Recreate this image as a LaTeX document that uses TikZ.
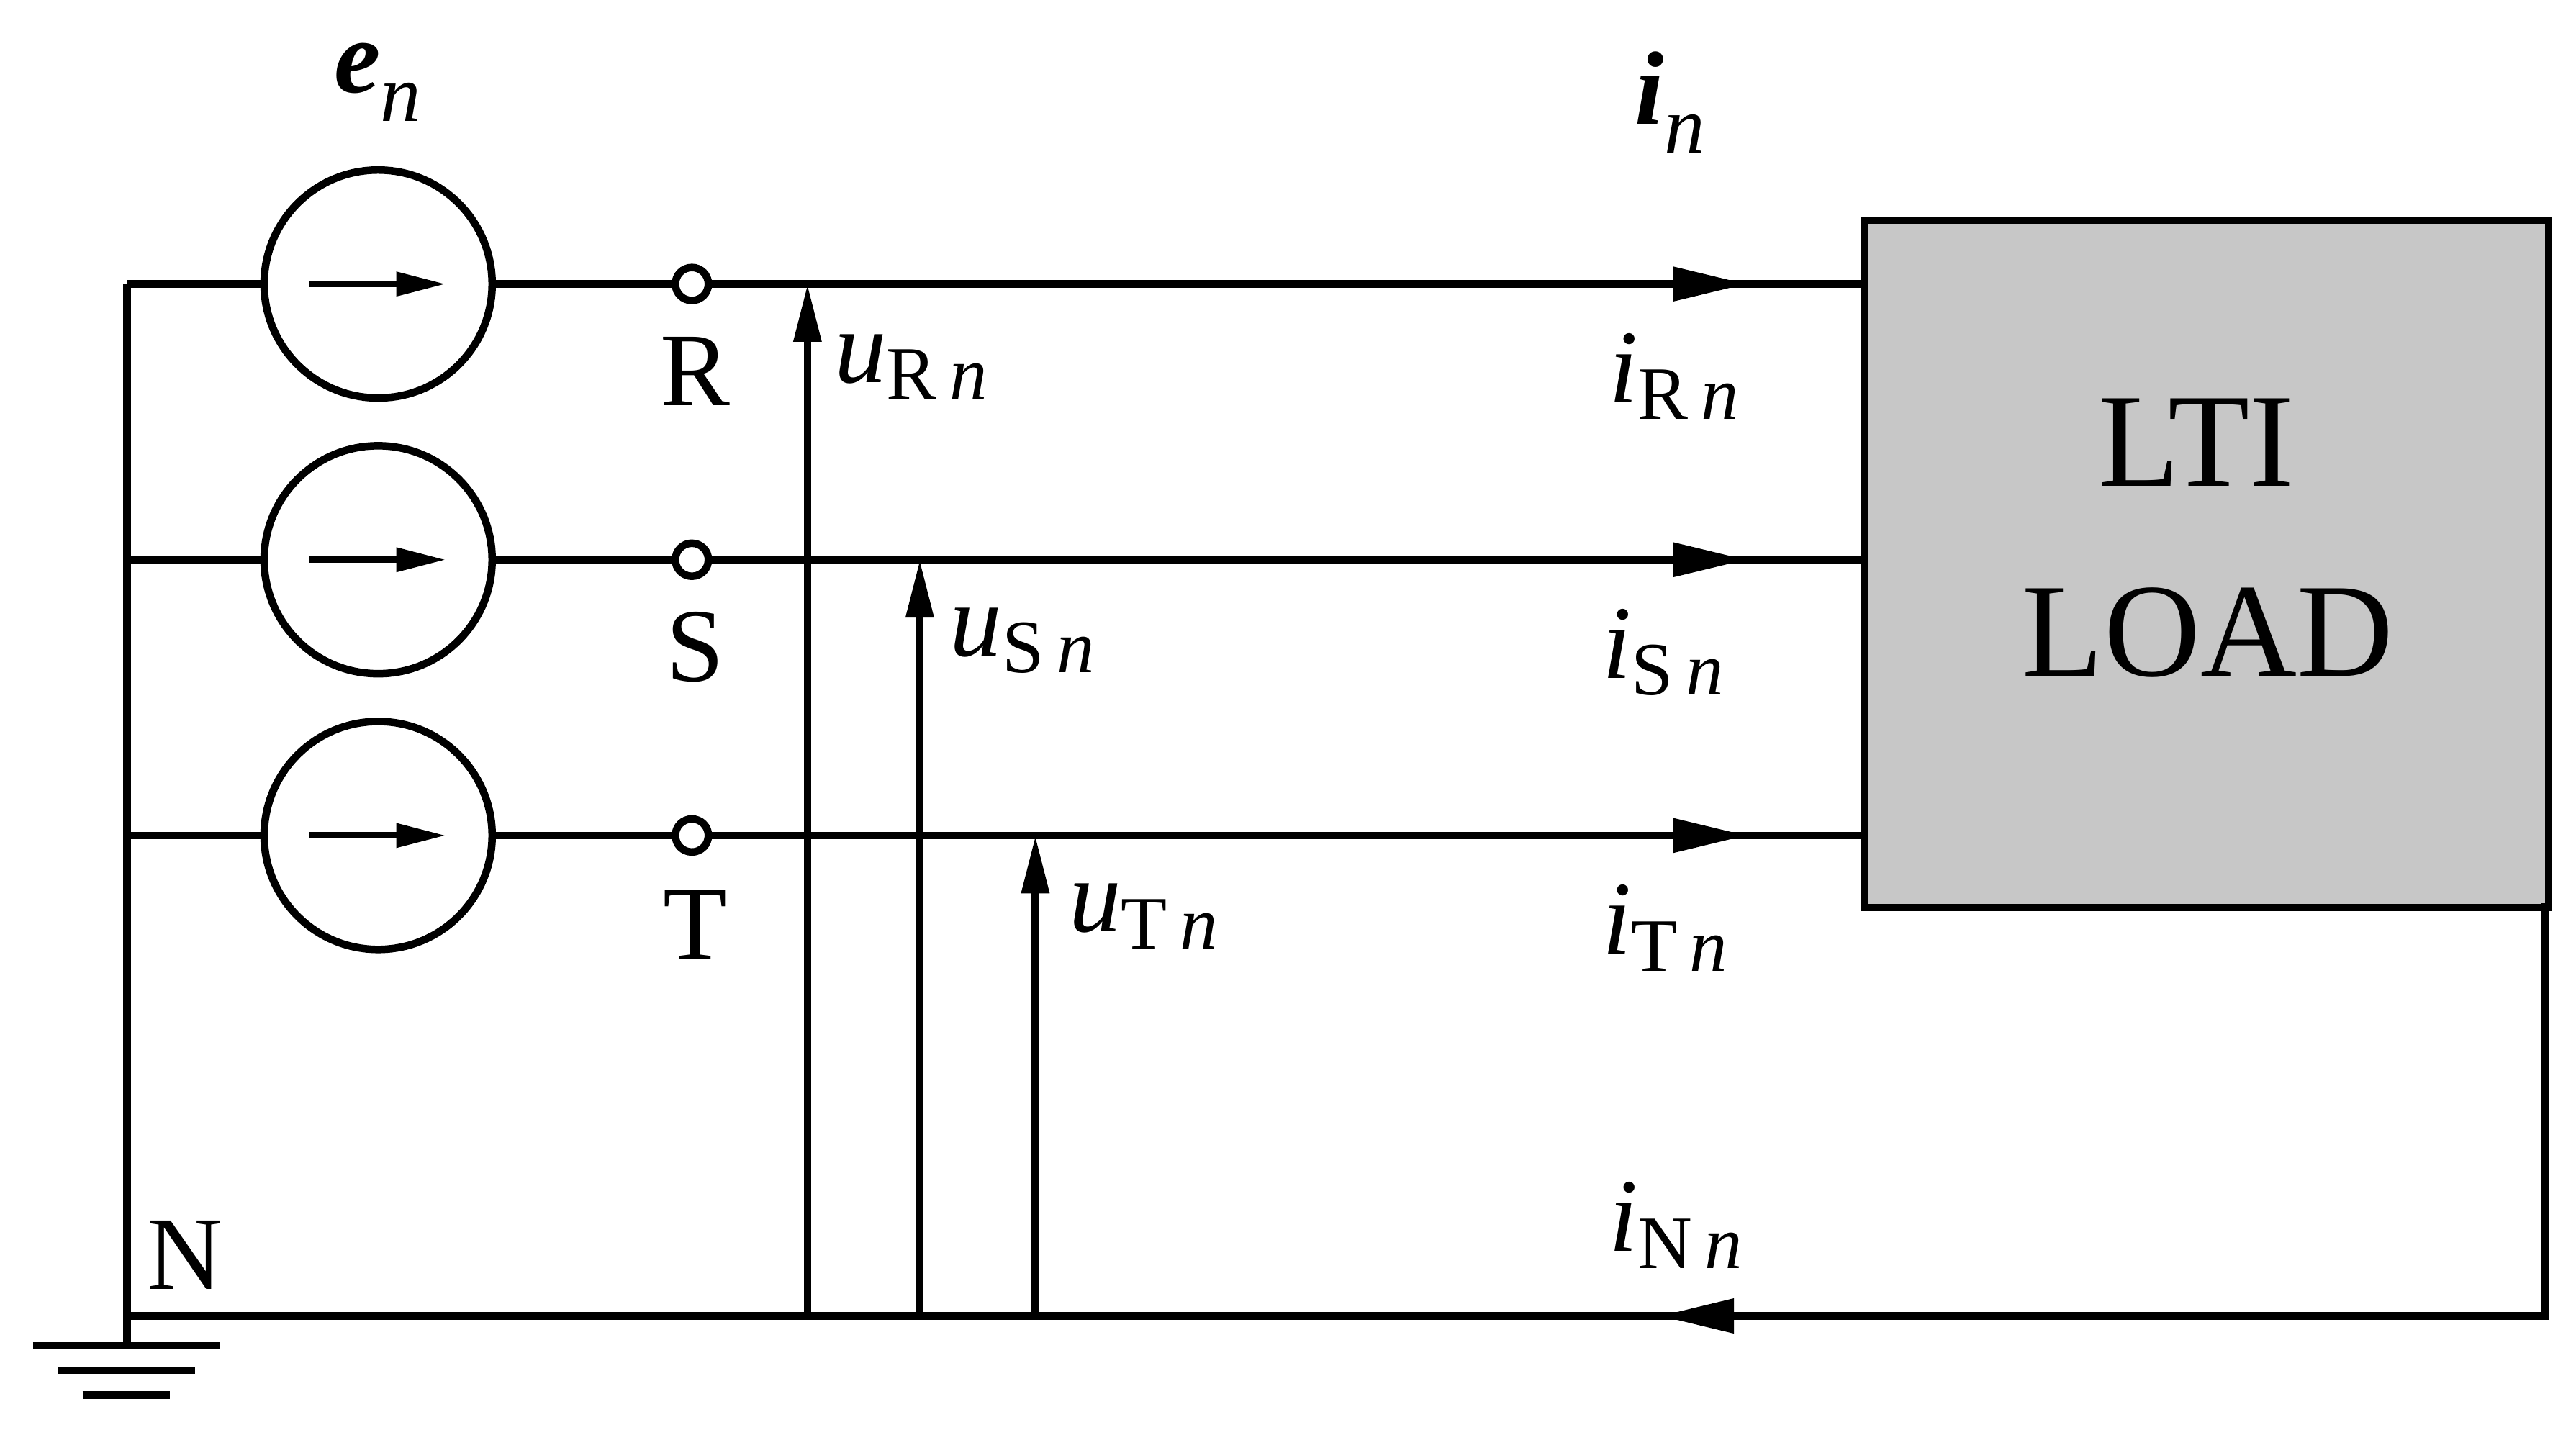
\documentclass[tikz,border=0pt]{standalone}
\usepackage{fontspec}
\setmainfont{Liberation Serif}
\usetikzlibrary{arrows.meta}
\newcommand{\lab}[3]{\textit{#1}\raisebox{-0.35ex}{\fontsize{13}{15}\selectfont #2\,\textit{#3}}}
\begin{document}
\begin{tikzpicture}[x=0.01cm,y=-0.01cm,line width=1.3pt,
  src/.style={circle,draw,minimum size=1.38cm,inner sep=0},
  term/.style={circle,draw,fill=white,minimum size=0.2cm,inner sep=0},
  lbl/.style={font=\fontsize{18}{20}\selectfont,inner sep=0},
  tip/.style={-{Triangle[length=0.45cm,width=0.2cm]}},
  vtip/.style={-{Triangle[length=0.35cm,width=0.16cm]}}]
\useasboundingbox (0,0) rectangle (1560,866);
% load
\node[draw,fill=black!22,minimum width=4.14cm,minimum height=4.16cm,anchor=north west,inner sep=0] (load) at (1127,131) {};
\node[lbl,font=\fontsize{23}{25}\selectfont] (lti) at (1330,268) {LTI};
\node[lbl,font=\fontsize{23}{25}\selectfont] (ld) at (1337,383) {LOAD};
% coordinates
\coordinate (L1) at (77,172); \coordinate (L2) at (77,339); \coordinate (L3) at (77,506); \coordinate (LN) at (77,797);
\coordinate (B1) at (1127,172); \coordinate (B2) at (1127,339); \coordinate (B3) at (1127,506);
\coordinate (A1) at (1058,172); \coordinate (A2) at (1058,339); \coordinate (A3) at (1058,506);
\coordinate (BR) at (1541,547); \coordinate (BN) at (1541,797); \coordinate (AN) at (1005,797);
\coordinate (V1b) at (489,797); \coordinate (V1t) at (489,172);
\coordinate (V2b) at (557,797); \coordinate (V2t) at (557,339);
\coordinate (V3b) at (627,797); \coordinate (V3t) at (627,506);
\coordinate (G0) at (77,815);
% sources
\foreach \i/\y in {1/172,2/339,3/506}{
  \node[src] (s\i) at (229,\y) {};
  \draw[-{Triangle[length=0.3cm,width=0.14cm]},line width=1.1pt] (187,\y) -- (270,\y);
  \node[term] (t\i) at (419,\y) {};
}
\draw (L1) -- (s1.west); \draw (L2) -- (s2.west); \draw (L3) -- (s3.west);
\draw (s1.east) -- (t1.west); \draw (s2.east) -- (t2.west); \draw (s3.east) -- (t3.west);
\draw (t1.east) -- (B1); \draw[tip] (t1.east) -- (A1);
\draw (t2.east) -- (B2); \draw[tip] (t2.east) -- (A2);
\draw (t3.east) -- (B3); \draw[tip] (t3.east) -- (A3);
\draw (L1) -- (LN) -- (G0);
\draw (BR) -- (BN) -- (LN);
\draw[tip] (BN) -- (AN);
\draw[vtip] (V1b) -- (V1t);
\draw[vtip] (V2b) -- (V2t);
\draw[vtip] (V3b) -- (V3t);
% ground
\draw (20,815) -- (133,815);
\draw (35,830) -- (118,830);
\draw (50,845) -- (103,845);
% labels
\node[lbl] (R) at (421,225) {R};
\node[lbl] (S) at (421,392) {S};
\node[lbl] (T) at (421,560) {T};
\node[lbl] (N) at (112,760) {N};
\node[lbl,anchor=west] (uR) at (503,222) {\lab{u}{R}{n}};
\node[lbl,anchor=west] (uS) at (573,388) {\lab{u}{S}{n}};
\node[lbl,anchor=west] (uT) at (645,555) {\lab{u}{T}{n}};
\node[lbl,anchor=west] (iR) at (972,228) {\lab{i}{R}{n}};
\node[lbl,anchor=west] (iS) at (968,395) {\lab{i}{S}{n}};
\node[lbl,anchor=west] (iT) at (968,562) {\lab{i}{T}{n}};
\node[lbl,anchor=west] (iN) at (972,742) {\lab{i}{N}{n}};
\node[lbl,anchor=west] (en) at (200,50) {\textbf{\textit{e}}\raisebox{-0.6ex}{\fontsize{14}{16}\selectfont\textit{n}}};
\node[lbl,anchor=west] (in) at (988,62) {\textbf{\textit{i}}\raisebox{-0.6ex}{\fontsize{14}{16}\selectfont\textit{n}}};
\end{tikzpicture}
\end{document}
